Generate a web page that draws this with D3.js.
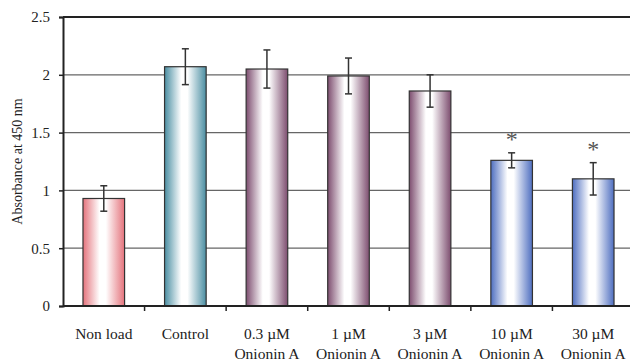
<!DOCTYPE html>
<html>
<head>
<meta charset="utf-8">
<script src="https://cdn.jsdelivr.net/npm/d3@7"></script>
<style>
  body { margin: 0; background: #fff; }
  svg { display: block; }
</style>
</head>
<body>
<div id="chart"></div>
<script>
// chart data
const categories = ["Non load", "Control", "0.3 µM|Onionin A", "1 µM|Onionin A", "3 µM|Onionin A", "10 µM|Onionin A", "30 µM|Onionin A"];
const means = [0.93, 2.07, 2.05, 1.99, 1.86, 1.26, 1.10];
const errors = [0.11, 0.155, 0.165, 0.155, 0.14, 0.065, 0.14];
const significant = [false, false, false, false, false, true, true];
const groups = ["pink", "teal", "mauve", "mauve", "mauve", "blue", "blue"];
const yTicks = [0, 0.5, 1, 1.5, 2, 2.5];

const width = 630, height = 361;
const margin = { left: 63, top: 17, bottom: 55 };
const font = "Liberation Serif, Times New Roman, serif";

const edgeColors = { pink: "#e4737c", teal: "#4a8ea2", mauve: "#7d4d6f", blue: "#4e6ec0" };

const svg = d3.select("#chart").append("svg")
  .attr("width", width)
  .attr("height", height)
  .style("font-family", font);

// gradients
const defs = svg.append("defs");
Object.keys(edgeColors).forEach(k => {
  const g = defs.append("linearGradient").attr("id", "grad-" + k)
    .attr("x1", "0%").attr("x2", "100%").attr("y1", "0%").attr("y2", "0%");
  g.append("stop").attr("offset", "0%").attr("stop-color", edgeColors[k]);
  g.append("stop").attr("offset", "40%").attr("stop-color", "#ffffff");
  g.append("stop").attr("offset", "55%").attr("stop-color", "#ffffff");
  g.append("stop").attr("offset", "100%").attr("stop-color", edgeColors[k]);
});

const x = d3.scaleBand().domain(categories).range([margin.left, 634]).paddingInner(0.49).paddingOuter(0.245);
const y = d3.scaleLinear().domain([0, 2.5]).range([height - margin.bottom, margin.top]);

// gridlines
svg.append("g").selectAll("line").data(yTicks.filter(d => d > 0 && d < 2.5)).join("line")
  .attr("x1", margin.left).attr("x2", width)
  .attr("y1", d => y(d)).attr("y2", d => y(d))
  .attr("stroke", "#666").attr("stroke-width", 1.2);

// top border line
svg.append("line")
  .attr("x1", margin.left).attr("x2", width)
  .attr("y1", y(2.5)).attr("y2", y(2.5))
  .attr("stroke", "#222").attr("stroke-width", 2);

// bars
svg.append("g").selectAll("rect").data(categories).join("rect")
  .attr("x", d => x(d))
  .attr("width", x.bandwidth())
  .attr("y", (d, i) => y(means[i]))
  .attr("height", (d, i) => y(0) - y(means[i]))
  .attr("fill", (d, i) => "url(#grad-" + groups[i] + ")")
  .attr("stroke", "#333").attr("stroke-width", 1.2);

// error bars
const eb = svg.append("g").attr("stroke", "#333").attr("stroke-width", 1.5);
categories.forEach((c, i) => {
  const cx = x(c) + x.bandwidth() / 2;
  const t = y(means[i] + errors[i]), b = y(means[i] - errors[i]);
  eb.append("line").attr("x1", cx).attr("x2", cx).attr("y1", t).attr("y2", b);
  eb.append("line").attr("x1", cx - 3.5).attr("x2", cx + 3.5).attr("y1", t).attr("y2", t);
  eb.append("line").attr("x1", cx - 3.5).attr("x2", cx + 3.5).attr("y1", b).attr("y2", b);
});

// significance asterisks
svg.append("g").selectAll("text").data(categories.filter((c, i) => significant[i])).join("text")
  .attr("x", d => x(d) + x.bandwidth() / 2)
  .attr("y", d => y(means[categories.indexOf(d)] + errors[categories.indexOf(d)]) - 6)
  .attr("text-anchor", "middle")
  .attr("font-size", 24)
  .attr("fill", "#555")
  .text("*");

// y axis
const yAxis = svg.append("g")
  .attr("transform", `translate(${margin.left},0)`)
  .call(d3.axisLeft(y).tickValues(yTicks).tickFormat(d3.format("")).tickSize(4).tickPadding(9));
yAxis.attr("font-family", null);
yAxis.select(".domain").attr("stroke", "#222").attr("stroke-width", 2);
yAxis.selectAll(".tick line").attr("stroke", "#222").attr("stroke-width", 1.5);
yAxis.selectAll(".tick text").attr("font-size", 15).attr("fill", "#222");

// x axis
const xAxis = svg.append("g").attr("transform", `translate(0,${y(0)})`);
xAxis.append("line").attr("x1", margin.left).attr("x2", width).attr("y1", 0).attr("y2", 0)
  .attr("stroke", "#222").attr("stroke-width", 2);
xAxis.selectAll("line.tk").data(categories.slice(1)).join("line").attr("class", "tk")
  .attr("x1", d => x(d) - x.step() * x.paddingInner() / 2)
  .attr("x2", d => x(d) - x.step() * x.paddingInner() / 2)
  .attr("y1", 0).attr("y2", 5)
  .attr("stroke", "#222").attr("stroke-width", 1.5);

const labels = xAxis.selectAll("text").data(categories).join("text")
  .attr("x", d => x(d) + x.bandwidth() / 2)
  .attr("y", 33)
  .attr("text-anchor", "middle")
  .attr("font-size", 15.5)
  .attr("fill", "#222");
labels.each(function (d) {
  const parts = d.split("|");
  const t = d3.select(this);
  parts.forEach((p, k) => {
    t.append("tspan").attr("x", x(d) + x.bandwidth() / 2).attr("dy", k === 0 ? 0 : 20).text(p);
  });
});

// y axis title
svg.append("text")
  .attr("transform", `translate(22,${(y(0) + y(2.5)) / 2}) rotate(-90)`)
  .attr("text-anchor", "middle")
  .attr("font-size", 14)
  .attr("fill", "#222")
  .text("Absorbance at 450 nm");
</script>
</body>
</html>
